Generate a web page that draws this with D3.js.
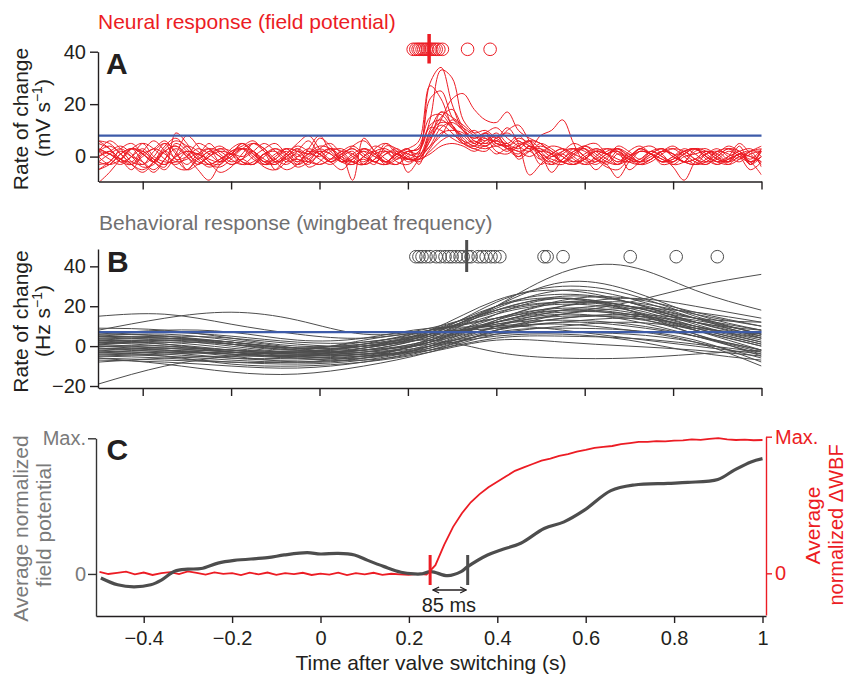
<!DOCTYPE html>
<html>
<head>
<meta charset="utf-8">
<script src="https://d3js.org/d3.v7.min.js"></script>
<style>
  body { margin: 0; background: #fff; }
  #chart text { font-family: "Liberation Sans", Arial, Helvetica, sans-serif; }
</style>
</head>
<body>
<div id="chart"></div>
<script>
"use strict"

// ---- dados ----
var tempoA = [-0.5,-0.475,-0.45,-0.425,-0.4,-0.375,-0.35,-0.325,-0.3,-0.275,
  -0.25,-0.225,-0.2,-0.175,-0.15,-0.125,-0.1,-0.075,-0.05,-0.025,
  0,0.025,0.05,0.075,0.1,0.125,0.15,0.175,0.2,0.225,
  0.25,0.275,0.3,0.325,0.35,0.375,0.4,0.425,0.45,0.475,
  0.5,0.525,0.55,0.575,0.6,0.625,0.65,0.675,0.7,0.725,
  0.75,0.775,0.8,0.825,0.85,0.875,0.9,0.925,0.95,0.975,1];

// taxa de variação do potencial de campo (mV/s), um vetor por ensaio
var tracosA = [
  [2,4,1,-3,-5,-2,3,6,4,0, -3,-4,-1,3,5,2,-2,-5,-3,1, 4,3,-1,-3,0,4,2,-2,-3,1, 28,34,20,10,7,9,5,4,7,5, 2,4,3,-1,-3,0,3,2,-1,-3, -1,2,4,1,-2,-3,0,3,1,-2, 0],
  [6,5,1,-3,-6,-2,4,7,3,-1, -4,-2,3,5,1,-3,-2,1,4,2, -1,-3,0,4,6,2,-2,-3,0,2, 14,33,30,14,9,6,9,5,3,6, 5,1,-2,2,4,1,-2,-3,0,3, 4,1,-3,-2,2,3,0,-3,-1,2, 3],
  [-10,-6,-1,3,2,-1,-3,0,4,2, -2,-6,-4,1,5,3,-1,-3,0,3, 1,-2,-5,-1,3,1,-2,1,3,6, 27,22,12,8,10,7,6,10,12,6, 1,-3,-1,3,2,-1,-4,-5,-1,2, 1,-2,0,3,1,-2,-1,2,0,-5, -2],
  [3,1,-2,-3,2,6,2,-4,-5,-1, 2,4,1,-3,-2,1,3,0,-4,-2, 3,5,1,-2,-3,1,2,-1,2,3, 22,25,15,10,5,8,4,5,-1,2, 4,2,-2,-3,-1,2,3,1,-2,-3, -1,2,3,0,-3,-2,1,4,2,-1, 3],
  [-2,1,3,0,-4,-3,2,4,1,-2, -3,-1,2,4,6,2,-2,-1,1,-4, -2,2,3,0,-3,-1,2,1,-1,0, 10,17,15,12,9,10,7,5,8,4, 2,-2,-3,1,4,2,-1,-3,-1,2, 1,-3,-2,1,3,1,-2,-1,2,-3, 0],
  [0,-3,-1,3,1,-2,-4,9,5,-1, 2,0,-3,-1,2,5,2,-2,-1,-3, 1,3,0,-2,-1,-3,4,3,-1,-1, 8,15,18,11,6,5,8,4,6,3, 8,10,14,5,-2,-1,2,3,0,-2, -1,2,1,-2,-3,-1,2,3,0,-2, 2],
  [5,3,-1,-2,2,-2,-5,1,8,4, -2,-3,1,3,0,-4,-5,0,3,1, 7,4,-2,-3,0,2,-1,-3,1,4, 15,16,11,7,4,7,2,1,4,6, -1,-3,1,3,0,-5,-1,4,2,-1, 2,0,-2,1,3,-1,-3,0,5,1, -3],
  [-3,-2,3,5,1,-2,2,-1,-5,0, 3,2,-1,-3,0,3,5,1,-2,1, 0,3,2,-2,-3,3,5,1,-1,-1, 6,14,22,24,18,14,13,17,10,7, 5,2,0,-2,1,3,1,-3,2,4, 1,-2,-1,2,-1,-3,0,3,2,-2, 0],
  [2,6,3,-2,-3,0,5,2,-5,-3, 0,3,1,5,2,-3,-1,2,-2,3, 8,2,-1,-2,3,1,-3,-1,2,3, 12,14,11,8,5,9,7,11,5,-7, -3,1,3,1,-1,-3,0,3,1,-2, 1,3,0,-2,-1,2,1,-2,0,2, 2],
  [-5,-3,1,3,1,-2,2,4,0,-5, -9,-3,0,3,1,-2,-1,3,0,2, 1,-2,0,-9,7,2,-2,1,3,-3, 9,13,12,6,3,6,8,3,0,4, 1,-6,-1,2,3,-1,-2,2,-5,-2, 1,3,0,-2,-3,1,2,-1,1,0, -2],
  [3,1,-1,3,5,0,-2,-2,2,1, 5,1,-2,-1,-3,1,-5,-2,2,6, 1,-2,1,3,0,-2,1,2,-6,-1, 4,11,13,10,7,9,11,7,4,2, 5,3,0,-3,-1,3,1,-2,1,-3, -2,1,3,2,-1,-2,2,1,-1,2, 4],
  [0,2,-1,-5,1,3,6,1,-3,1, 3,-2,1,5,2,-1,-3,1,5,8, 3,-2,0,2,-3,-1,5,2,-2,0, 7,12,9,5,4,8,5,4,2,3, -3,0,2,5,3,-1,-3,-8,-2,3, 1,-1,-2,2,3,0,-3,-1,1,2, -4],
  [2,-1,-3,0,5,3,-1,-3,0,5, 3,0,-3,-1,5,3,-2,0,3,-2, 1,3,-2,0,2,-2,1,3,0,-2, 3,9,10,9,5,4,7,9,6,4, 0,-2,2,3,0,-2,1,3,-2,-1, 2,0,-4,-9,-2,1,3,0,-2,1, 2],
  [-2,-3,1,3,-2,-6,-1,5,2,-3, 1,3,2,-2,-3,0,3,1,-3,-1, 2,1,-2,1,3,0,-2,1,3,-1, 2,6,8,6,4,3,4,2,5,3, 3,1,-2,0,4,5,1,-2,0,3, 1,-2,-1,2,3,0,-2,-3,0,-2, -7],
  [6,3,-2,0,3,-1,-3,0,2,1, -1,-2,2,3,-1,-3,0,3,2,-1, -3,-1,2,1,-2,2,3,0,-1,2, 11,10,7,5,6,4,6,3,4,6, 3,0,1,-2,-1,2,1,3,0,-2, 0,2,1,-2,3,2,-1,-2,4,-3, 2],
  [-5,-2,2,0,-2,-5,-1,3,0,-3, 0,2,1,-2,-3,1,2,-1,-3,0, 2,-1,1,3,0,-2,-3,2,1,0, 4,8,14,11,8,5,6,4,0,2, -1,1,3,0,-3,-2,1,2,0,3, 1,-2,0,2,3,0,-2,0,2,3, 0],
  [2,1,-1,-3,0,3,1,-2,-1,1, -3,-1,1,0,2,-2,-3,0,2,1, 3,1,-2,-1,2,0,-2,1,-1,-1, 1,4,5,4,2,4,1,3,2,0, 2,1,-2,-3,0,2,1,-1,-2,2, 1,-1,-3,0,1,2,-1,-2,1,0, -2],
  [0,2,4,1,-3,2,5,-1,0,3, 1,-2,0,3,2,-2,1,3,-1,-2, -3,-1,2,4,1,-2,-3,0,2,1, 6,17,12,5,3,2,5,3,1,4, 1,-1,-2,1,3,0,-3,1,-1,-2, 2,3,1,-2,-1,2,0,-2,1,-3, 3]
];
var limiarA = 8;
var picosA = [0.212,0.218,0.223,0.227,0.232,0.236,0.241,0.245,0.25,0.254,0.259,0.264,0.27,0.278,0.335,0.386];
var inicioNeural = 0.248;

var tempoB = [-0.5,-0.35,-0.2,-0.05,0.1,0.25,0.4,0.55,0.7,0.85,1];
// taxa de variação da frequência de batimento (Hz/s)
var tracosB = [
  [15,16,11,6,4,8,14,22,20,12,8],
  [8,14,17,13,6,9,18,25,22,14,6],
  [-19,-10,-5,-3,-3,2,16,24,18,6,-2],
  [5,6,3,-1,-4,3,20,37,40,28,18],
  [-3,-2,-4,-6,-5,-2,8,16,22,30,36],
  [2,0,-3,-5,-1,6,22,30,26,15,6],
  [0,-2,-5,-8,-6,4,20,26,22,12,4],
  [-5,-6,-8,-9,-7,0,13,23,24,17,10],
  [7,7,5,2,2,8,18,22,19,10,2],
  [3,4,2,-2,-5,1,12,17,16,9,1],
  [-7,-8,-10,-11,-8,-1,10,18,20,14,8],
  [-6,-9,-13,-14,-10,-3,6,10,12,9,6],
  [4,3,0,-3,0,7,20,24,18,8,-2],
  [1,-1,-3,-4,-2,5,16,21,18,10,4],
  [-2,-4,-6,-6,-4,2,13,20,22,16,10],
  [6,5,1,-2,3,7,9,12,10,5,-2],
  [-4,-5,-7,-8,-6,0,8,12,14,10,3],
  [3,2,-1,-3,1,8,14,18,15,6,-5],
  [-1,-3,-6,-7,-5,-1,7,9,8,3,-8],
  [5,4,2,-1,0,6,12,16,13,5,-4],
  [0,0,-2,-4,-3,3,11,15,14,8,0],
  [-3,-3,-4,-5,-4,-2,4,5,4,1,-3],
  [2,1,-2,-4,-1,3,-3,-6,-6,-4,-2],
  [9,8,4,0,1,7,17,22,20,11,2],
  [-8,-6,-5,-5,-3,2,9,11,8,2,-10],
  [6,8,7,3,4,9,10,14,15,12,5],
  [-5,-4,-3,-3,-2,1,6,7,6,2,-6],
  [1,3,2,-1,0,6,20,32,28,16,8],
  [-2,-1,-2,-4,-2,5,18,24,20,14,12],
  [3,1,-3,-6,-7,-2,8,14,16,13,6],
  [7,5,2,-1,2,6,10,8,4,0,-4],
  [-1,-2,-4,-5,-4,0,5,6,3,-3,-7],
  [4,5,4,1,0,4,12,20,24,20,14],
  [-3,-5,-9,-10,-8,-3,3,2,0,-2,-5],
  [2,3,1,-2,-1,6,19,28,24,14,4],
  [0,-1,-3,-5,-6,0,10,16,19,17,12],
  [-6,-7,-8,-8,-5,2,12,18,16,8,0],
  [5,4,1,-2,0,8,23,28,22,12,5],
  [-4,-3,-2,-3,-2,3,14,19,17,9,1],
  [1,2,1,-1,1,5,11,13,11,5,-3]
];
var limiarB = 7;
var picosB = [0.218,0.225,0.232,0.241,0.25,0.264,0.273,0.284,0.293,0.3,0.309,0.318,0.325,0.336,0.343,
  0.359,0.368,0.377,0.388,0.397,0.408,0.508,0.515,0.551,0.703,0.807,0.9];
var inicioWBF = 0.333;

// painel C: médias normalizadas
var vermelhoT = [-0.5,-0.48,-0.46,-0.44,-0.42,-0.4,-0.38,-0.36,-0.34,-0.32,-0.3,-0.28,-0.26,-0.24,-0.22,
  -0.2,-0.18,-0.16,-0.14,-0.12,-0.1,-0.08,-0.06,-0.04,-0.02,0,0.02,0.04,0.06,0.08,0.1,0.12,0.14,0.16,0.18,
  0.2,0.22,0.24,0.26,0.28,0.3,0.32,0.34,0.36,0.38,0.4,0.42,0.44,0.46,0.48,0.5,0.52,0.54,0.56,0.58,
  0.6,0.62,0.64,0.66,0.68,0.7,0.72,0.74,0.76,0.78,0.8,0.82,0.84,0.86,0.88,0.9,0.92,0.94,0.96,0.98,1];
var vermelhoV = [0.01,-0.005,0.004,0.012,-0.008,0.006,-0.012,0.002,0.009,-0.006,
  0.014,0.003,-0.01,0.007,-0.004,0.001,-0.013,0.005,-0.008,0.006,
  -0.011,0.002,-0.006,0.004,-0.012,
  -0.002,-0.009,0.005,-0.013,0.001,-0.007,0.004,-0.011,-0.003,-0.008,
  -0.012,-0.004,-0.009,0.06,0.21,0.34,0.44,0.52,0.58,0.63,
  0.67,0.71,0.75,0.775,0.8,0.825,0.84,0.86,0.872,0.89,
  0.903,0.918,0.925,0.932,0.945,0.953,0.962,0.962,0.968,0.966,
  0.972,0.973,0.98,0.977,0.984,0.99,0.981,0.976,0.979,0.974,
  0.976];
var cinzaT = [-0.497,-0.459,-0.422,-0.384,-0.36,-0.33,-0.3,-0.27,-0.232,-0.195,-0.12,-0.082,-0.03,0,0.04,0.077,
  0.107,0.144,0.182,0.212,0.227,0.25,0.288,0.318,0.333,0.378,0.408,0.453,0.506,0.551,0.597,0.657,0.71,0.786,
  0.831,0.899,0.936,0.974,1];
var cinzaV = [-0.03,-0.08,-0.095,-0.08,-0.045,0.02,0.035,0.04,0.08,0.1,0.12,0.14,0.157,0.147,0.152,0.14,
  0.1,0.054,0.013,0,0,0.017,-0.013,0.017,0.054,0.14,0.177,0.226,0.335,0.384,0.47,0.614,0.656,0.668,
  0.675,0.697,0.765,0.826,0.85];

var tempoTicks = [-0.4,-0.2,0,0.2,0.4,0.6,0.8,1];
var ticksA = [0,20,40];
var ticksB = [-20,0,20,40];
var ticksC = [0,1];
var rotulosC = ["0","Max."];

// ---- desenho ----
var vermelho = "#ec1c24", cinza = "#4d4d4d", cinzaTexto = "#707070", azul = "#3d5ba9", preto = "#231f20";
var fonte = '"Liberation Sans", Arial, Helvetica, sans-serif';

var svg = d3.select('#chart').append('svg')
  .attr('width', 849).attr('height', 679);

var xA = d3.scaleLinear().domain([-0.5, 1]).range([98.5, 761.5]);
var yA = d3.scaleLinear().domain([-9.5, 40]).range([181.5, 51.7]);
var yB = d3.scaleLinear().domain([-21, 48.7]).range([388, 249]);
var xC = d3.scaleLinear().domain([-0.5, 1]).range([99.5, 762.5]);
var xCeixo = xC.copy().domain([xC.invert(96), xC.invert(766)]).range([96, 766]);
var yCesq = d3.scaleLinear().domain([-0.31, 1]).range([616, 438.3]);
var yCdir = d3.scaleLinear().domain([-0.305, 1]).range([615, 436.7]);

var defs = svg.append('defs');
defs.append('clipPath').attr('id', 'clipA').append('rect')
  .attr('x', xA(-0.5)).attr('y', yA(48)).attr('width', xA(1) - xA(-0.5)).attr('height', yA(-9.5) - yA(48));
defs.append('clipPath').attr('id', 'clipB').append('rect')
  .attr('x', xA(-0.5)).attr('y', yB(48.7)).attr('width', xA(1) - xA(-0.5)).attr('height', yB(-21) - yB(48.7));
defs.append('marker').attr('id', 'seta')
  .attr('viewBox', '0 0 8 8').attr('refX', 7).attr('refY', 4)
  .attr('markerWidth', 8).attr('markerHeight', 8).attr('markerUnits', 'userSpaceOnUse')
  .attr('orient', 'auto-start-reverse')
  .append('path').attr('d', 'M1,1 L7,4 L1,7').attr('fill', 'none').attr('stroke', preto).attr('stroke-width', 1.3);

function estiloEixo(g, corLinha, corTexto, tam) {
  g.attr('font-family', fonte).attr('font-size', tam);
  g.select('.domain').attr('stroke', corLinha).attr('stroke-width', 1.4);
  g.selectAll('.tick line').attr('stroke', corLinha).attr('stroke-width', 1.4);
  g.selectAll('.tick text').attr('fill', corTexto);
}

function tituloY(x, y, cor) {
  return svg.append('text')
    .attr('transform', 'translate(' + x + ',' + y + ') rotate(-90)')
    .attr('text-anchor', 'middle').attr('font-size', 21).attr('fill', cor);
}

function desenhaTracos(tempos, tracos, y, cor, curva, clip) {
  var linha = d3.line()
    .x((d, i) => xA(tempos[i]))
    .y(d => y(d))
    .curve(curva);
  svg.append('g').attr('clip-path', 'url(#' + clip + ')')
    .selectAll('path')
    .data(tracos)
    .enter()
    .append('path')
      .attr('d', linha)
      .attr('fill', 'none')
      .attr('stroke', cor)
      .attr('stroke-width', 1);
}

// ---------- Painel A ----------
svg.append('text').attr('x', 98).attr('y', 29.3)
  .attr('font-size', 21).attr('fill', vermelho)
  .text('Neural response (field potential)');

desenhaTracos(tempoA, tracosA, yA, vermelho, d3.curveCatmullRom.alpha(0.5), 'clipA');

svg.append('line')
  .attr('x1', xA(-0.5)).attr('x2', xA(1))
  .attr('y1', yA(limiarA)).attr('y2', yA(limiarA))
  .attr('stroke', azul).attr('stroke-width', 2.2);

svg.append('g').selectAll('circle')
  .data(picosA).enter().append('circle')
    .attr('cx', d => xA(d)).attr('cy', 49.3).attr('r', 6.3)
    .attr('fill', 'none').attr('stroke', vermelho).attr('stroke-width', 1);

svg.append('line')
  .attr('x1', xA(inicioNeural)).attr('x2', xA(inicioNeural))
  .attr('y1', 34).attr('y2', 63.5)
  .attr('stroke', vermelho).attr('stroke-width', 3.5);

var eixoAy = svg.append('g').attr('transform', 'translate(98,0)')
  .call(d3.axisLeft(yA).tickValues(ticksA).tickSize(8).tickPadding(4).tickSizeOuter(0));
estiloEixo(eixoAy, preto, preto, 20);
var eixoAx = svg.append('g').attr('transform', 'translate(0,181.5)')
  .call(d3.axisBottom(xA).tickValues(tempoTicks).tickSize(8).tickSizeOuter(0).tickFormat(''));
estiloEixo(eixoAx, preto, preto, 20);

svg.append('text').attr('x', 106).attr('y', 74.3)
  .attr('font-size', 30).attr('font-weight', 'bold').attr('fill', preto).text('A');

tituloY(28, 119, preto).text('Rate of change');
var tA2 = tituloY(49.5, 118, preto);
tA2.append('tspan').text('(mV s');
tA2.append('tspan').attr('dy', -8).attr('font-size', 14).text('\u22121');
tA2.append('tspan').attr('dy', 8).text(')');

// ---------- Painel B ----------
svg.append('text').attr('x', 99).attr('y', 229.5)
  .attr('font-size', 21).attr('fill', cinzaTexto)
  .text('Behavioral response (wingbeat frequency)');

desenhaTracos(tempoB, tracosB, yB, cinza, d3.curveNatural, 'clipB');

svg.append('line')
  .attr('x1', xA(-0.5)).attr('x2', xA(1))
  .attr('y1', yB(limiarB)).attr('y2', yB(limiarB))
  .attr('stroke', azul).attr('stroke-width', 2.2);

svg.append('g').selectAll('circle')
  .data(picosB).enter().append('circle')
    .attr('cx', d => xA(d)).attr('cy', 256.7).attr('r', 6.3)
    .attr('fill', 'none').attr('stroke', cinza).attr('stroke-width', 1);

svg.append('line')
  .attr('x1', xA(inicioWBF)).attr('x2', xA(inicioWBF))
  .attr('y1', 240).attr('y2', 272)
  .attr('stroke', cinza).attr('stroke-width', 3);

var eixoBy = svg.append('g').attr('transform', 'translate(98,0)')
  .call(d3.axisLeft(yB).tickValues(ticksB).tickSize(8).tickPadding(4).tickSizeOuter(0));
estiloEixo(eixoBy, preto, preto, 20);
var eixoBx = svg.append('g').attr('transform', 'translate(0,388)')
  .call(d3.axisBottom(xA).tickValues(tempoTicks).tickSize(8).tickSizeOuter(0).tickFormat(''));
estiloEixo(eixoBx, preto, preto, 20);

svg.append('text').attr('x', 107).attr('y', 271.7)
  .attr('font-size', 30).attr('font-weight', 'bold').attr('fill', preto).text('B');

tituloY(28, 321.5, preto).text('Rate of change');
var tB2 = tituloY(49.5, 321, preto);
tB2.append('tspan').text('(Hz s');
tB2.append('tspan').attr('dy', -8).attr('font-size', 14).text('\u22121');
tB2.append('tspan').attr('dy', 8).text(')');

// ---------- Painel C ----------
var linhaVermelha = d3.line()
  .x((d, i) => xC(vermelhoT[i]))
  .y(d => yCdir(d));
svg.append('path').datum(vermelhoV)
  .attr('d', linhaVermelha)
  .attr('fill', 'none').attr('stroke', vermelho).attr('stroke-width', 1.8);

var linhaCinza = d3.line()
  .x((d, i) => xC(cinzaT[i]))
  .y(d => yCesq(d))
  .curve(d3.curveCatmullRom.alpha(0.5));
svg.append('path').datum(cinzaV)
  .attr('d', linhaCinza)
  .attr('fill', 'none').attr('stroke', cinza).attr('stroke-width', 3.2);

svg.append('line')
  .attr('x1', xC(inicioNeural)).attr('x2', xC(inicioNeural))
  .attr('y1', 555).attr('y2', 585)
  .attr('stroke', vermelho).attr('stroke-width', 3);
svg.append('line')
  .attr('x1', xC(inicioWBF)).attr('x2', xC(inicioWBF))
  .attr('y1', 555).attr('y2', 585)
  .attr('stroke', cinza).attr('stroke-width', 3);

svg.append('line')
  .attr('x1', xC(inicioNeural) + 3).attr('x2', xC(inicioWBF) - 1.5)
  .attr('y1', 590).attr('y2', 590)
  .attr('stroke', preto).attr('stroke-width', 1.3)
  .attr('marker-start', 'url(#seta)').attr('marker-end', 'url(#seta)');
svg.append('text')
  .attr('x', (xC(inicioNeural) + xC(inicioWBF)) / 2).attr('y', 612)
  .attr('text-anchor', 'middle').attr('font-size', 20).attr('fill', preto)
  .text(Math.round((inicioWBF - inicioNeural) * 1000) + ' ms');

var eixoCx = svg.append('g').attr('transform', 'translate(0,616)')
  .call(d3.axisBottom(xCeixo).tickValues(tempoTicks).tickSize(7).tickPadding(8).tickSizeOuter(0)
    .tickFormat(d3.format('~g')));
estiloEixo(eixoCx, preto, preto, 20);

var eixoCesq = svg.append('g').attr('transform', 'translate(96,0)')
  .call(d3.axisLeft(yCesq).tickValues(ticksC).tickSize(8).tickPadding(2).tickSizeOuter(0)
    .tickFormat((d, i) => rotulosC[i]));
estiloEixo(eixoCesq, '#333', '#7a7a7a', 20);

var eixoCdir = svg.append('g').attr('transform', 'translate(766,0)')
  .call(d3.axisRight(yCdir).tickValues(ticksC).tickSize(6).tickPadding(3).tickSizeOuter(0)
    .tickFormat((d, i) => rotulosC[i]));
estiloEixo(eixoCdir, vermelho, vermelho, 20);

svg.append('text').attr('x', 106.5).attr('y', 460)
  .attr('font-size', 30).attr('font-weight', 'bold').attr('fill', preto).text('C');

tituloY(28, 528.5, '#7a7a7a').text('Average normalized');
tituloY(51, 525, '#7a7a7a').text('field potential');
tituloY(820, 525.5, vermelho).text('Average');
tituloY(843, 525, vermelho).attr('font-size', 20).text('normalized \u0394WBF');

svg.append('text').attr('x', 431).attr('y', 670)
  .attr('text-anchor', 'middle').attr('font-size', 21).attr('fill', preto)
  .text('Time after valve switching (s)');
</script>
</body>
</html>
